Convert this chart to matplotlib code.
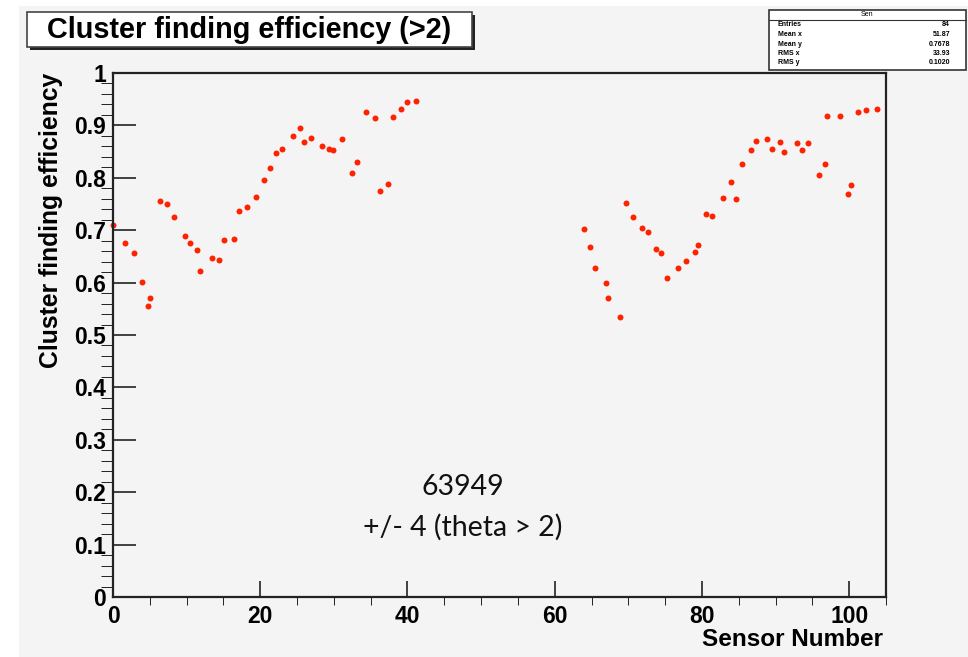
import matplotlib
matplotlib.use("Agg")
import matplotlib.pyplot as plt
from matplotlib.patches import Rectangle
from matplotlib.ticker import MultipleLocator

# sensor number / efficiency
sensor = [0.0, 1.6, 2.8, 3.9, 4.7, 5.0, 6.4, 7.3, 8.3, 9.8, 10.5, 11.4, 11.8, 13.4,
          14.4, 15.1, 16.5, 17.1, 18.2, 19.4, 20.5, 21.3, 22.2, 22.9, 24.4, 25.4,
          25.9, 26.9, 28.4, 29.4, 29.9, 31.1, 32.5, 33.1, 34.3, 35.6, 36.3, 37.4,
          38.0, 39.1, 39.9, 41.2,
          64.0, 64.8, 65.5, 66.9, 67.2, 68.9, 69.7, 70.6, 71.8, 72.7, 73.8, 74.4,
          75.3, 76.7, 77.8, 79.1, 79.5, 80.6, 81.4, 82.9, 84.0, 84.6, 85.5, 86.6,
          87.4, 88.9, 89.5, 90.6, 91.2, 92.9, 93.6, 94.4, 95.9, 96.7, 97.0, 98.7,
          99.9, 100.2, 101.2, 102.3, 103.8]
efficiency = [0.710, 0.676, 0.657, 0.601, 0.556, 0.570, 0.755, 0.750, 0.726, 0.688,
              0.676, 0.662, 0.623, 0.646, 0.643, 0.681, 0.683, 0.736, 0.744, 0.764,
              0.796, 0.818, 0.847, 0.855, 0.879, 0.895, 0.869, 0.876, 0.860, 0.855,
              0.853, 0.874, 0.810, 0.831, 0.926, 0.914, 0.775, 0.789, 0.916, 0.931,
              0.945, 0.947,
              0.702, 0.667, 0.627, 0.599, 0.570, 0.535, 0.752, 0.725, 0.705, 0.697,
              0.665, 0.657, 0.609, 0.627, 0.641, 0.659, 0.672, 0.731, 0.728, 0.762,
              0.792, 0.760, 0.826, 0.853, 0.871, 0.874, 0.855, 0.869, 0.850, 0.866,
              0.853, 0.866, 0.805, 0.826, 0.918, 0.918, 0.770, 0.786, 0.926, 0.929,
              0.932]

stat_names = ["Entries", "Mean x", "Mean y", "RMS x", "RMS y"]
stat_values = ["84", "51.87", "0.7678", "33.93", "0.1020"]

W, H = 968, 657
BG = "#f4f4f4"
FONT = "Liberation Sans"
plt.rcParams["font.family"] = [FONT, "DejaVu Sans"]


def fx(px):
    return px / W


def fy(py):
    return 1 - py / H


fig = plt.figure(figsize=(W / 100, H / 100), dpi=100, facecolor="white")
fig.patches.append(Rectangle((fx(19), 0), 1 - fx(19), fy(6), transform=fig.transFigure,
                             facecolor=BG, edgecolor="none", zorder=-5))

ax = fig.add_axes([fx(113), fy(597), fx(886) - fx(113), fy(73) - fy(597)])
ax.set_zorder(1)
ax.set_facecolor(BG)
ax.plot(sensor, efficiency, linestyle="none", marker="o", markersize=4.3,
        color="#ff2200", markeredgewidth=0, clip_on=False)

ax.set_xlim(0, 105)
ax.set_ylim(0, 1)
ax.xaxis.set_major_locator(MultipleLocator(20))
ax.xaxis.set_minor_locator(MultipleLocator(5))
ax.yaxis.set_major_locator(MultipleLocator(0.1))
ax.yaxis.set_minor_locator(MultipleLocator(0.02))
ax.yaxis.set_major_formatter(plt.FuncFormatter(lambda v, p: "0" if v == 0 else ("1" if v == 1 else f"{v:.1f}")))

for s in ax.spines.values():
    s.set_linewidth(1.6)
    s.set_color("#222222")

ax.tick_params(axis="both", direction="in", color="#333333", width=1.3,
               top=False, right=False, labelsize=16.5)
ax.tick_params(axis="x", which="major", length=11.3, pad=6)
ax.tick_params(axis="x", which="minor", length=5.7)
ax.tick_params(axis="y", which="major", length=16.6, pad=5)
ax.tick_params(axis="y", which="minor", length=8.3)
for lab in ax.get_xticklabels() + ax.get_yticklabels():
    lab.set_fontweight("bold")

# axis titles
fig.text(fx(883), fy(640), "Sensor Number", ha="right", va="center",
         fontsize=17.5, fontweight="bold")
fig.text(fx(51), fy(220), "Cluster finding efficiency", ha="center", va="center",
         rotation=90, fontsize=17.8, fontweight="bold")

# title box with shadow
fig.patches.append(Rectangle((fx(30), fy(50)), fx(445), 35 / H, transform=fig.transFigure,
                             facecolor="#222222", edgecolor="none", zorder=2))
fig.patches.append(Rectangle((fx(27), fy(47)), fx(445), 35 / H, transform=fig.transFigure,
                             facecolor="white", edgecolor="#444444", linewidth=1.2, zorder=3))
fig.text(fx(249), fy(30), "Cluster finding efficiency (>2)", ha="center", va="center",
         fontsize=20.8, fontweight="bold", zorder=4)

# stats box
fig.patches.append(Rectangle((fx(769), fy(70)), fx(197), 60 / H, transform=fig.transFigure,
                             facecolor="white", edgecolor="#333333", linewidth=1.2, zorder=3))
fig.lines.append(plt.Line2D([fx(769), fx(966)], [fy(20), fy(20)], transform=fig.transFigure,
                            color="#333333", linewidth=0.8, zorder=4))
fig.text(fx(867), fy(15), "Sen", ha="center", va="center", fontsize=5, zorder=5)
row_y = [25, 34.5, 44, 53.5, 63]
for name, val, yy in zip(stat_names, stat_values, row_y):
    fig.text(fx(778), fy(yy), name, ha="left", va="center", fontsize=5,
             fontweight="bold", zorder=5)
    fig.text(fx(950), fy(yy), val, ha="right", va="center", fontsize=5,
             fontweight="bold", zorder=5)

# annotation
ax.text(0.452, 0.21, "63949", transform=ax.transAxes, ha="center", va="center",
        fontsize=20.5, family="Lato", color="#111111")
ax.text(0.452, 0.133, "+/- 4 (theta > 2)", transform=ax.transAxes, ha="center",
        va="center", fontsize=20.5, family="Lato", color="#111111")

fig.savefig("out.png", dpi=100, facecolor=fig.get_facecolor())
plt.close(fig)
